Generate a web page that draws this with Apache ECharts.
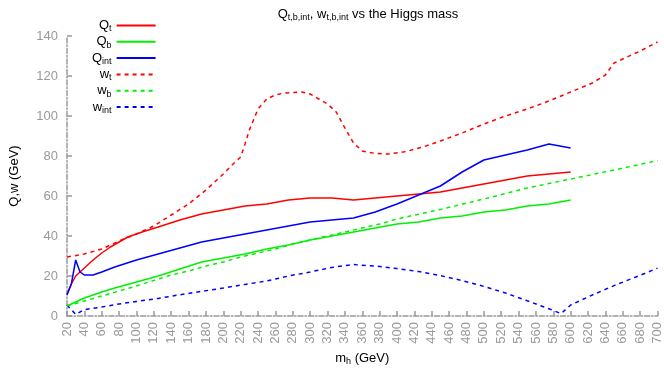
<!DOCTYPE html>
<html><head><meta charset="utf-8">
<script src="https://cdn.jsdelivr.net/npm/echarts@6/dist/echarts.min.js"></script>
<style>html,body{margin:0;padding:0;background:#fff}#c{width:664px;height:377px}</style>
</head><body><div id="c"></div>
<script>
const xTicks = {min: 20, max: 700, interval: 20};
const yTicks = {min: 0, max: 140, interval: 20};

const mhQt = [20,25,30,40,50,60,70,80,90,100,110,125,150,175,200,225,250,275,300,325,350,375,400,425,450,475,500,525,550,575,600];
const Qt   = [11,16,20,24,28,31.5,34.5,37,39.5,41,42.5,44.5,48,51,53,55,56,58,59,59,58,59,60,61,62,64,66,68,70,71,72];

const mhQb = [20,30,40,50,60,75,100,125,150,175,200,225,250,275,300,325,350,375,400,425,450,475,500,525,550,575,600];
const Qb   = [5,7,9,10.5,12,14,17,20,23.5,27,29,31,33.5,35.5,38,40,42,44,46,47,49,50,52,53,55,56,58];

const mhQint = [20,25,30,35,40,50,60,75,100,125,150,175,200,225,250,275,300,325,350,375,400,425,450,475,500,525,550,575,600];
const Qint   = [10.5,16,28,22,20.5,20.5,22,24.5,28,31,34,37,39,41,43,45,47,48,49,52,56,60.5,65,72,78,80.5,83,86,84];

const mhWt = [20,40,60,80,100,120,140,160,180,200,210,220,225,230,240,250,260,270,290,300,310,320,330,340,350,360,375,390,410,430,450,475,500,525,550,575,600,625,640,650,660,680,700];
const Wt   = [29.5,31,33.5,37.5,41,45,50.5,56,63,71,75.5,79.5,86,93,103.5,108.5,110.5,111.5,112,111,108.5,106,102,94,86.5,82.5,81.3,81,82.2,84.5,87.5,91.5,96,100,103.5,107.5,112,116.5,120.5,126.5,128.5,132.5,137];

const mhWb = [20,40,60,80,100,120,140,160,180,200,220,240,260,280,300,320,340,360,380,400,450,500,550,600,650,700];
const Wb   = [5,7.5,10,12.5,15,17.8,20.5,22.5,25,27,29.5,31.5,33.5,36,38,40,42,44,46,48.5,53.3,58.5,64,68.5,73,77.7];

const mhWint = [20,30,40,60,80,100,125,150,175,200,225,250,275,300,325,350,375,400,425,450,475,500,525,550,575,589,600,625,650,675,700];
const Wint   = [5.5,0.8,3.2,4.5,6,7.3,8.8,10.6,12.3,14,15.8,17.5,20,22,24.3,25.7,25,23.7,22.2,20.2,17.7,14.8,11.5,7.6,3.6,1.2,5.5,10.5,15.2,19.5,23.9];

const names = ['Q_t','Q_b','Q_int','w_t','w_b','w_int'];
const labels = {
  'Q_t': '{m|Q}{s|t}', 'Q_b': '{m|Q}{s|b}', 'Q_int': '{m|Q}{s|int}',
  'w_t': '{m|w}{s|t}', 'w_b': '{m|w}{s|b}', 'w_int': '{m|w}{s|int}'
};
const RED = '#ff0000', GREEN = '#00f000', BLUE = '#0000ff';

function pairs(xs, ys){ return xs.map((x,i)=>[x, ys[i]]); }
function mk(name, xs, ys, color, dashed){
  return {name, type:'line', data: pairs(xs, ys), symbol:'none', showSymbol:false,
    lineStyle:{color, width:1.5, type: dashed ? [4,4] : 'solid'}, itemStyle:{color}, z: dashed?2:3};
}
const rich = {
  m: {fontSize: 13, color:'#000', fontWeight:'normal', fontFamily:'Liberation Sans', lineHeight: 16, verticalAlign:'middle'},
  s: {fontSize: 9, color:'#000', fontWeight:'normal', fontFamily:'Liberation Sans', lineHeight: 8, verticalAlign:'bottom'}
};
const axisGrey = '#999';
const chart = echarts.init(document.getElementById('c'), null, {renderer:'canvas'});
chart.setOption({
  animation:false,
  backgroundColor:'#fff',
  title:{
    text:'{m|Q}{s|t,b,int}{m|, w}{s|t,b,int}{m| vs the Higgs mass}',
    left: 363, textAlign:'center', top: 1,
    textStyle:{rich, fontWeight:'normal'}
  },
  legend:{
    data: names, orient:'vertical', align:'right', left: 87, top: 14,
    itemWidth: 39, itemHeight: 10, itemGap: 1.8,
    itemStyle:{opacity:0},
    formatter: n => labels[n],
    textStyle:{rich}
  },
  grid:{left:67, right:5, top:36, bottom:61, containLabel:false},
  xAxis:{
    type:'value', min:xTicks.min, max:xTicks.max, interval:xTicks.interval,
    name:'{m|m}{s|h}{m| (GeV)}', nameLocation:'middle', nameGap: 27,
    nameTextStyle:{rich},
    axisLine:{show:true, onZero:false, lineStyle:{color:axisGrey, width:1.5, type:[5,2,1.5,2]}},
    axisTick:{show:true, inside:true, length:5, lineStyle:{color:axisGrey, width:1.5}},
    axisLabel:{rotate:90, color:'#999', fontSize:13, fontFamily:'Liberation Sans', margin:6},
    splitLine:{show:false}
  },
  yAxis:{
    type:'value', min:yTicks.min, max:yTicks.max, interval:yTicks.interval,
    name:'Q,w (GeV)', nameLocation:'middle', nameGap: 46,
    nameTextStyle:{color:'#000', fontSize:13, fontFamily:'Liberation Sans'},
    axisLine:{show:true, onZero:false, lineStyle:{color:axisGrey, width:1.5, type:[5,2,1.5,2]}},
    axisTick:{show:true, inside:true, length:5, lineStyle:{color:axisGrey, width:1.5}},
    axisLabel:{color:'#999', fontSize:13, fontFamily:'Liberation Sans', margin:9},
    splitLine:{show:false}
  },
  series:[
    mk('Q_t', mhQt, Qt, RED, false),
    mk('Q_b', mhQb, Qb, GREEN, false),
    mk('Q_int', mhQint, Qint, BLUE, false),
    mk('w_t', mhWt, Wt, RED, true),
    mk('w_b', mhWb, Wb, GREEN, true),
    mk('w_int', mhWint, Wint, BLUE, true)
  ]
});
</script></body></html>
